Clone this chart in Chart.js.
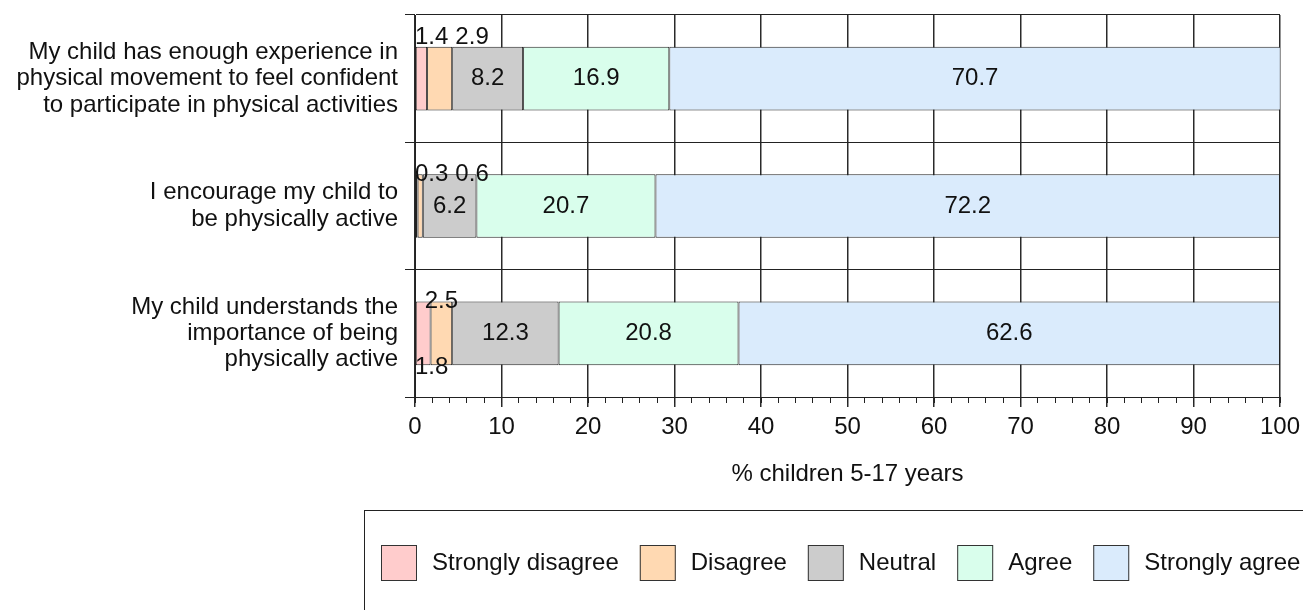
<!DOCTYPE html>
<html>
<head>
<meta charset="utf-8">
<title>Parent views on child physical activity</title>
<script src="https://cdn.jsdelivr.net/npm/chart.js@4/dist/chart.umd.min.js"></script>
<style>
  html, body { margin: 0; padding: 0; background: #ffffff; overflow: hidden; }
  #wrap { width: 1303px; height: 610px; position: relative; }
</style>
</head>
<body>
<div id="wrap"><canvas id="chart" width="1303" height="610"></canvas></div>
<script>
// Survey statements (multi-line category labels)
const statements = [
  ['My child has enough experience in', 'physical movement to feel confident', 'to participate in physical activities'],
  ['I encourage my child to', 'be physically active'],
  ['My child understands the', 'importance of being', 'physically active']
];

// Response levels
const responseLevels = ['Strongly disagree', 'Disagree', 'Neutral', 'Agree', 'Strongly agree'];

// Percent of children 5-17 years, one value per statement
const stronglyDisagree = [1.4, 0.3, 1.8];
const disagree = [2.9, 0.6, 2.5];
const neutral = [8.2, 6.2, 12.3];
const agree = [16.9, 20.7, 20.8];
const stronglyAgree = [70.7, 72.2, 62.6];

const levelColors = ['#FFCCCC', '#FFD9B2', '#CCCCCC', '#D9FEEC', '#DAEBFC'];
const seriesValues = [stronglyDisagree, disagree, neutral, agree, stronglyAgree];

const FONT = "'Liberation Sans', Arial, Helvetica, sans-serif";
const INK = '#111111';
const LINE = '#222222';

// Value labels: centred inside a segment when it fits, otherwise set on the bar edge
const segmentLabels = {
  id: 'segmentLabels',
  afterDatasetsDraw(chart, args, o) {
    const { ctx, chartArea } = chart;
    ctx.save();
    ctx.font = `${o.size}px ${FONT}`;
    ctx.fillStyle = o.color;
    ctx.textBaseline = 'middle';
    chart.data.labels.forEach((_, r) => {
      let narrowIdx = 0;
      const lastRight = { top: -Infinity, bottom: -Infinity };
      chart.data.datasets.forEach((ds, di) => {
        const bar = chart.getDatasetMeta(di).data[r];
        const value = ds.data[r];
        const text = value.toFixed(1);
        const w = ctx.measureText(text).width;
        const { x, base, y, height } = bar.getProps(['x', 'base', 'y', 'height'], true);
        const l = Math.min(x, base), rr = Math.max(x, base);
        if (w + 6 <= rr - l) {
          ctx.textAlign = 'center';
          ctx.fillText(text, (l + rr) / 2, y);
          return;
        }
        const edge = (o.narrowEdge[r] || [])[narrowIdx] || 'top';
        narrowIdx++;
        let left = Math.max((l + rr) / 2 - w / 2, chartArea.left);
        if (left < lastRight[edge] + o.gap) left = lastRight[edge] + o.gap;
        lastRight[edge] = left + w;
        const ty = edge === 'top' ? y - height / 2 - (o.lift[r] || 0) : y + height / 2 + 2;
        ctx.textAlign = 'left';
        ctx.fillText(text, left, ty);
      });
    });
    ctx.restore();
  }
};

// Framed legend row below the axis title
const framedLegend = {
  id: 'framedLegend',
  afterDraw(chart, args, o) {
    const { ctx } = chart;
    ctx.save();
    ctx.lineWidth = 1;
    ctx.strokeStyle = LINE;
    ctx.strokeRect(o.left + 0.5, o.top + 0.5, chart.width, chart.height);
    ctx.font = `${o.size}px ${FONT}`;
    ctx.textBaseline = 'middle';
    ctx.textAlign = 'left';
    let x = o.start;
    const cy = o.swatchTop + o.swatch / 2;
    chart.data.datasets.forEach(ds => {
      ctx.fillStyle = ds.backgroundColor;
      ctx.fillRect(x, o.swatchTop, o.swatch, o.swatch);
      ctx.strokeStyle = '#333333';
      ctx.strokeRect(x + 0.5, o.swatchTop + 0.5, o.swatch - 1, o.swatch - 1);
      const tx = x + o.swatch + o.textGap;
      ctx.fillStyle = INK;
      ctx.fillText(ds.label, tx, cy);
      x = tx + ctx.measureText(ds.label).width + o.itemGap;
    });
    ctx.restore();
  }
};

new Chart(document.getElementById('chart'), {
  type: 'bar',
  data: {
    labels: statements,
    datasets: responseLevels.map((name, i) => ({
      label: name,
      data: seriesValues[i],
      backgroundColor: levelColors[i],
      borderColor: LINE,
      borderWidth: 1,
      borderSkipped: false,
      categoryPercentage: 1,
      barPercentage: 0.5
    }))
  },
  plugins: [segmentLabels, framedLegend],
  options: {
    indexAxis: 'y',
    responsive: false,
    maintainAspectRatio: false,
    animation: false,
    devicePixelRatio: 1,
    layout: { padding: { left: 0, right: 23, top: 15, bottom: 113 } },
    plugins: {
      legend: { display: false },
      tooltip: { enabled: false },
      segmentLabels: {
        size: 24,
        color: INK,
        gap: 7,
        narrowEdge: [['top', 'top'], ['top', 'top'], ['bottom', 'top']],
        lift: [9, 0, 0]
      },
      framedLegend: {
        left: 364, top: 510, start: 381, swatchTop: 545, swatch: 36,
        textGap: 15, itemGap: 21, size: 24
      }
    },
    scales: {
      x: {
        type: 'linear',
        stacked: true,
        min: 0,
        max: 100,
        weight: 1,
        ticks: { stepSize: 10, color: INK, font: { family: FONT, size: 24 }, padding: 6, maxRotation: 0 },
        grid: { color: '#2a2a2a', lineWidth: 1.5, tickLength: 10 },
        border: { display: true, color: LINE },
        title: {
          display: true,
          text: '% children 5-17 years',
          color: INK,
          font: { family: FONT, size: 24 },
          padding: { top: 0, bottom: 8 }
        },
        afterFit(scale) {
          scale.height = 100;
          scale.paddingLeft = 0;
          scale.paddingRight = 0;
        }
      },
      xMinor: {
        type: 'linear',
        position: 'bottom',
        min: 0,
        max: 100,
        weight: 0,
        ticks: { display: false, stepSize: 2, maxTicksLimit: 60, autoSkip: false },
        grid: { drawOnChartArea: false, color: LINE, tickLength: 6 },
        border: { display: false },
        afterFit(scale) {
          scale.height = 0;
          scale.paddingLeft = 0;
          scale.paddingRight = 0;
        }
      },
      y: {
        stacked: true,
        ticks: {
          color: INK,
          font: { family: FONT, size: 24, lineHeight: 1.1 },
          padding: 7,
          crossAlign: 'near'
        },
        grid: { color: LINE, lineWidth: 1, tickLength: 10, offset: true },
        border: { display: true, color: LINE },
        afterFit(scale) {
          scale.width = 415;
          scale.paddingTop = 0;
          scale.paddingBottom = 0;
        }
      }
    }
  }
});
</script>
</body>
</html>
